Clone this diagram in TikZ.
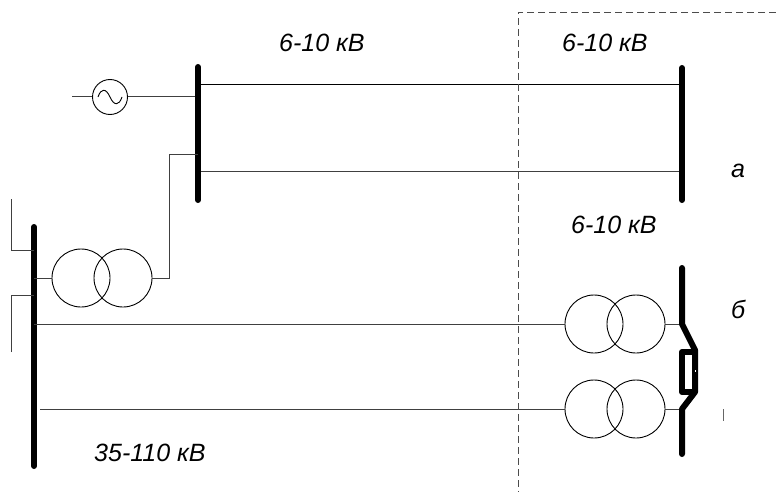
\documentclass[tikz,border=0pt]{standalone}
\usepackage{fontspec}
\setmainfont{Liberation Sans}
\tikzset{
  busbar/.style={line width=6pt,line cap=round,line join=round},
  wire/.style={line width=1pt,black!75},
  coil/.style={circle,draw,line width=0.9pt,minimum size=58pt,inner sep=0pt},
  gen/.style={circle,draw,line width=0.9pt,minimum size=35pt,inner sep=0pt},
  lab/.style={font=\fontsize{25}{27}\selectfont\itshape,inner sep=0pt,anchor=base west},
}
\begin{document}
\begin{tikzpicture}[x=1pt,y=-1pt]
\useasboundingbox (0,0) rectangle (776,492);
\coordinate (b1t) at (198,67); \coordinate (b1b) at (198,200);
\coordinate (b2t) at (682,68); \coordinate (b2b) at (682,200);
\coordinate (b3t) at (34,227); \coordinate (b3b) at (34,466);
% generator
\node[gen] (g) at (110,97) {};
\coordinate (gf) at (72,97);
\draw[wire] (gf) -- (g.west);
\draw[wire] (g.east) -- (198,97);
\draw[line width=0.9pt] (98,97) .. controls (101,88) and (106,88) .. (110,97) .. controls (114,106) and (119,106) .. (122,97);
% lines a
\draw[line width=1pt] (198,85) -- (682,85);
\draw[wire] (198,171) -- (682,171);
% buses
\draw[busbar] (b1t) -- (b1b);
\draw[busbar] (b2t) -- (b2b);
\draw[busbar] (b3t) -- (b3b);
% left transformer
\node[coil] (t1a) at (81,278) {};
\node[coil] (t1b) at (123,278) {};
\draw[wire] (b3t |- t1a) -- (t1a.west);
\draw[wire] (t1b.east) -- (169,278) -- (169,154) -- (198,154);
% left feeders
\coordinate (f1) at (11,199); \coordinate (f2) at (11,352);
\draw[wire] (f1) -- (11,250) -- (34,250);
\draw[wire] (f2) -- (11,295) -- (34,295);
% right transformers
\node[coil] (t2a) at (594,324) {};
\node[coil] (t2b) at (636,324) {};
\node[coil] (t3a) at (594,409) {};
\node[coil] (t3b) at (636,409) {};
\draw[wire] (34,324) -- (t2a.west);
\draw[wire] (40,409) -- (t3a.west);
\draw[wire] (t2b.east) -- (682,324);
\draw[wire] (t3b.east) -- (682,409);
% right breaker bus
\draw[busbar] (682,268) -- (682,324) -- (695,350) -- (695,392) -- (682,409) -- (682,454);
\draw[line width=6pt,line join=round] (695,352) -- (682,352) -- (682,392) -- (695,392);
\fill[white] (694.5,370) rectangle (696,372);
\coordinate (tk1) at (723,409); \coordinate (tk2) at (723,421);
\draw[line width=1pt,black!60] (tk1) -- (tk2);
% divider
\coordinate (d1) at (518,12); \coordinate (d2) at (518,492); \coordinate (d3) at (776,12);
\draw[line width=0.8pt,black!70,dash pattern=on 7pt off 4pt] (d3) -- (d1) -- (d2);
% labels
\node[lab] (l1) at (279,52) {6-10 кВ};
\node[lab] (l2) at (562,52) {6-10 кВ};
\node[lab] (l3) at (571,233) {6-10 кВ};
\node[lab] (l4) at (94,461) {35-110 кВ};
\node[lab] (l5) at (731,177) {а};
\node[lab] (l6) at (731,318) {б};
\end{tikzpicture}
\end{document}
